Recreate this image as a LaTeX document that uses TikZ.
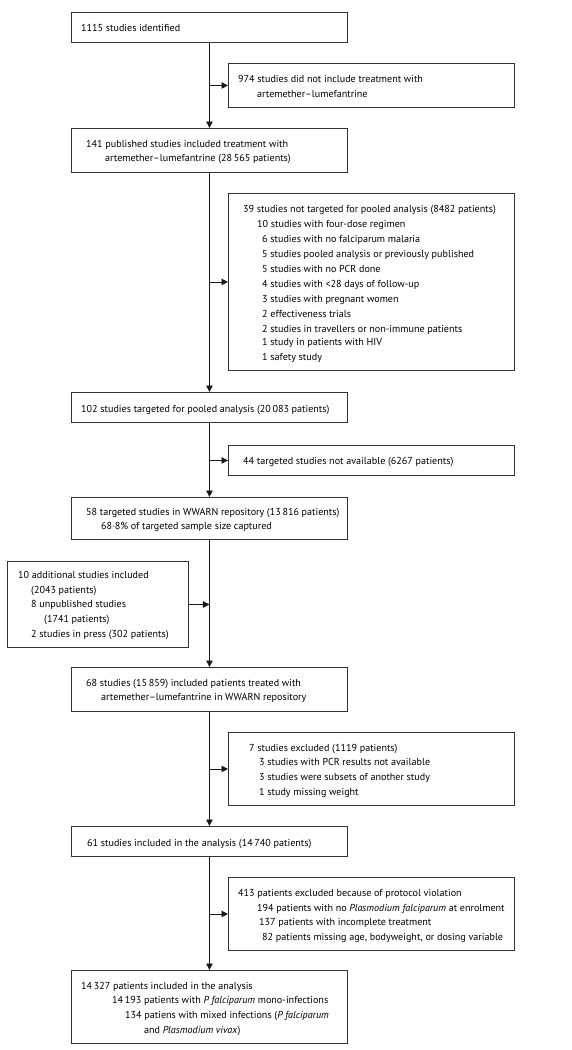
\documentclass[tikz,border=0pt]{standalone}
\usepackage{fontspec}
\setmainfont{PT Sans}
\usetikzlibrary{arrows.meta}
\definecolor{boxline}{HTML}{333333}
\tikzset{
  box/.style={draw=boxline, line width=0.9pt, minimum width=#1, anchor=north west, inner sep=0pt, fill=white},
  txt/.style={anchor=base west, inner sep=0pt, font=\fontsize{10.1}{12}\selectfont, text=black},
  arr/.style={draw=black!90, line width=0.9pt, -{Triangle[length=6.5pt,width=6.5pt]}}
}
\begin{document}
\begin{tikzpicture}[x=1pt,y=-1pt]
\useasboundingbox[fill=white] (0,0) rectangle (572,1050);
% boxes
\node[box=276pt, minimum height=30pt] (b1) at (71,12) {};
\node[box=286pt, minimum height=44pt] (r1) at (228,63) {};
\node[box=276pt, minimum height=44pt] (b2) at (71,128) {};
\node[box=286pt, minimum height=177pt] (r2) at (228,193) {};
\node[box=276pt, minimum height=30pt] (b3) at (71,392) {};
\node[box=286pt, minimum height=30pt] (r3) at (228,445) {};
\node[box=276pt, minimum height=42pt] (b4) at (71,497) {};
\node[box=181pt, minimum height=86pt] (l1) at (7,561) {};
\node[box=276pt, minimum height=44pt] (b5) at (71,667) {};
\node[box=286pt, minimum height=73pt] (r4) at (228,732) {};
\node[box=276pt, minimum height=30pt] (b6) at (71,826) {};
\node[box=286pt, minimum height=73pt] (r5) at (228,877) {};
\node[box=276pt, minimum height=73pt] (b7) at (71,970) {};
% connectors
\draw[arr] (b1.south) -- (b2.north);
\draw[arr] (b2.south) -- (b3.north);
\draw[arr] (b3.south) -- (b4.north);
\draw[arr] (b4.south) -- (b5.north);
\draw[arr] (b5.south) -- (b6.north);
\draw[arr] (b6.south) -- (b7.north);
\draw[arr] (b1.south |- r1.west) -- (r1.west);
\draw[arr] (b2.south |- r2.west) -- (r2.west);
\draw[arr] (b3.south |- r3.west) -- (r3.west);
\draw[arr] (b5.south |- r4.west) -- (r4.west);
\draw[arr] (b6.south |- r5.west) -- (r5.west);
\draw[arr] (l1.east) -- (b4.south |- l1.east);
% texts
\node[txt] (t1) at (81,31) {1115 studies identified};
\node[txt] (t2a) at (238,82) {974 studies did not include treatment with};
\node[txt] (t2b) at (257,97) {artemether–lumefantrine};
\node[txt] (t3a) at (86,147) {141 published studies included treatment with};
\node[txt] (t3b) at (105,161) {artemether–lumefantrine (28\,565 patients)};
\node[txt] (t4a) at (243,212) {39 studies not targeted for pooled analysis (8482 patients)};
\node[txt] (t4b) at (257,227) {10 studies with four-dose regimen};
\node[txt] (t4c) at (262,242) {6 studies with no falciparum malaria};
\node[txt] (t4d) at (262,257) {5 studies pooled analysis or previously published};
\node[txt] (t4e) at (262,272) {5 studies with no PCR done};
\node[txt] (t4f) at (262,287) {4 studies with <28 days of follow-up};
\node[txt] (t4g) at (262,302) {3 studies with pregnant women};
\node[txt] (t4h) at (262,317) {2 effectiveness trials};
\node[txt] (t4i) at (262,332) {2 studies in travellers or non-immune patients};
\node[txt] (t4j) at (262,345) {1 study in patients with HIV};
\node[txt] (t4k) at (262,360) {1 safety study};
\node[txt] (t5) at (81,412) {102 studies targeted for pooled analysis (20\,083 patients)};
\node[txt] (t6) at (243,464) {44 targeted studies not available (6267 patients)};
\node[txt] (t7a) at (86,515) {58 targeted studies in WWARN repository (13\,816 patients)};
\node[txt] (t7b) at (101,529) {68·8\% of targeted sample size captured};
\node[txt] (t8a) at (18,578) {10 additional studies included};
\node[txt] (t8b) at (31,593) {(2043 patients)};
\node[txt] (t8c) at (31,607) {8 unpublished studies};
\node[txt] (t8d) at (44,622) {(1741 patients)};
\node[txt] (t8e) at (31,637) {2 studies in press (302 patients)};
\node[txt] (t9a) at (86,686) {68 studies (15\,859) included patients treated with};
\node[txt] (t9b) at (101,700) {artemether–lumefantrine in WWARN repository};
\node[txt] (t10a) at (249,751) {7 studies excluded (1119 patients)};
\node[txt] (t10b) at (259,765) {3 studies with PCR results not available};
\node[txt] (t10c) at (259,780) {3 studies were subsets of another study};
\node[txt] (t10d) at (259,795) {1 study missing weight};
\node[txt] (t11) at (87,846) {61 studies included in the analysis (14\,740 patients)};
\node[txt] (t12a) at (238,896) {413 patients excluded because of protocol violation};
\node[txt] (t12b) at (257,911) {194 patients with no \textit{Plasmodium falciparum} at enrolment};
\node[txt] (t12c) at (259,925) {137 patients with incomplete treatment};
\node[txt] (t12d) at (262,940) {82 patients missing age, bodyweight, or dosing variable};
\node[txt] (t13a) at (81,989) {14\,327 patients included in the analysis};
\node[txt] (t13b) at (112,1003) {14\,193 patients with \textit{P falciparum} mono-infections};
\node[txt] (t13c) at (125,1018) {134 patiens with mixed infections (\textit{P falciparum}};
\node[txt] (t13d) at (144,1033) {and \textit{Plasmodium vivax})};
\end{tikzpicture}
\end{document}
